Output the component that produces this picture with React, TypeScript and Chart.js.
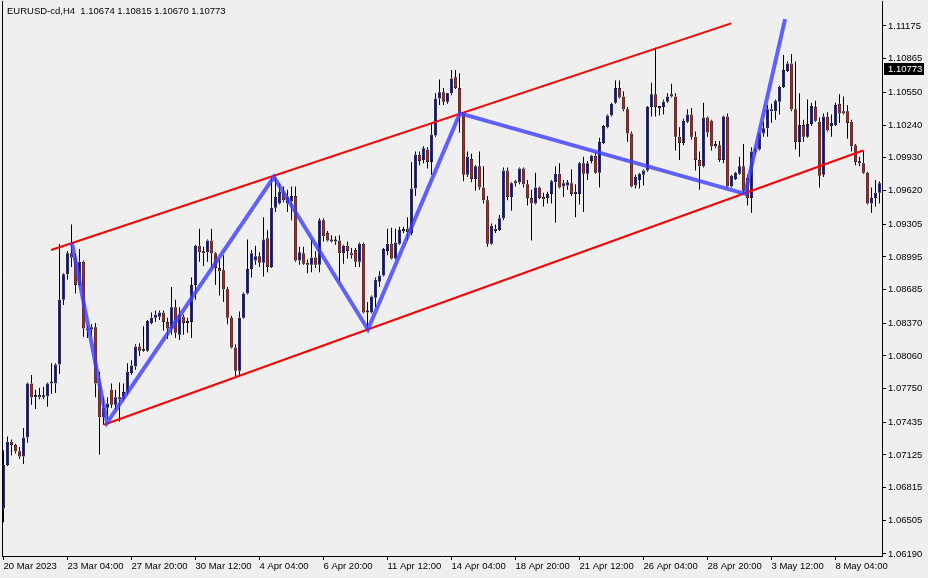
import React, { useEffect, useRef } from 'react';
import { Chart, registerables } from 'chart.js';

Chart.register(...registerables);

const FONT = '"Liberation Sans", Arial, sans-serif';
const BG = '#efefef';
const BULL = '#0000ff';
const BEAR = '#ff0000';

const titleText = 'EURUSD-cd,H4  1.10674 1.10815 1.10670 1.10773';
const lastPrice = 1.10773;

const opens = [
  1.0662, 1.0703, 1.0725, 1.0722, 1.0716, 1.0711, 1.0729, 1.0780, 1.0767, 1.0769,
  1.0767, 1.0768, 1.0780, 1.0780, 1.0798, 1.0859, 1.0883, 1.0903, 1.0899, 1.0873,
  1.0895, 1.0830, 1.0831, 1.0833, 1.0780, 1.0748, 1.0757, 1.0774, 1.0760, 1.0767,
  1.0765, 1.0772, 1.0790, 1.0796, 1.0815, 1.0811, 1.0811, 1.0837, 1.0842, 1.0843,
  1.0847, 1.0838, 1.0832, 1.0852, 1.0826, 1.0843, 1.0837, 1.0838, 1.0873, 1.0910,
  1.0904, 1.0904, 1.0915, 1.0903, 1.0889, 1.0887, 1.0869, 1.0842, 1.0814, 1.0792,
  1.0842, 1.0865, 1.0888, 1.0896, 1.0900, 1.0894, 1.0917, 1.0890, 1.0946, 1.0950,
  1.0960, 1.0950, 1.0952, 1.0957, 1.0896, 1.0903, 1.0894, 1.0892, 1.0899, 1.0892,
  1.0934, 1.0922, 1.0915, 1.0914, 1.0915, 1.0903, 1.0910, 1.0903, 1.0906, 1.0895,
  1.0912, 1.0847, 1.0847, 1.0861, 1.0876, 1.0882, 1.0905, 1.0912, 1.0898, 1.0912,
  1.0925, 1.0926, 1.0922, 1.0964, 1.0996, 1.0991, 1.1001, 1.0989, 1.1014, 1.1049,
  1.1055, 1.1046, 1.1054, 1.1069, 1.1059, 1.1035, 1.0977, 1.0992, 1.0973, 1.0985,
  1.0965, 1.0953, 1.0912, 1.0926, 1.0925, 1.0936, 1.0981, 1.0956, 1.0969, 1.0970,
  1.0983, 1.0968, 1.0955, 1.0950, 1.0965, 1.0956, 1.0955, 1.0959, 1.0970, 1.0978,
  1.0966, 1.0967, 1.0969, 1.0959, 1.0959, 1.0988, 1.0978, 1.0990, 1.0995, 1.0979,
  1.1007, 1.1022, 1.1033, 1.1045, 1.1059, 1.1051, 1.1039, 1.1016, 1.0967, 1.0972,
  1.0977, 1.0981, 1.1041, 1.1053, 1.1041, 1.1041, 1.1046, 1.1051, 1.1051, 1.1013,
  1.1007, 1.1027, 1.1034, 1.1013, 1.0991, 1.0985, 1.1031, 1.1028, 1.1004, 1.1005,
  1.0991, 1.1032, 1.0966, 1.0973, 1.0978, 1.0985, 1.0974, 1.0955, 1.0999, 1.1001,
  1.1016, 1.1021, 1.1037, 1.1037, 1.1046, 1.1060, 1.1075, 1.1082, 1.1039, 1.1008,
  1.1024, 1.1013, 1.1025, 1.1041, 1.1027, 1.0977, 1.1032, 1.1023, 1.1024, 1.1044,
  1.1037, 1.1037, 1.1027, 1.1005, 1.0989, 1.0988, 1.0979, 1.0950, 1.0955, 1.0960,
];

const highs = [
  1.0717, 1.0730, 1.0727, 1.0723, 1.0720, 1.0738, 1.0781, 1.0788, 1.0774, 1.0776,
  1.0777, 1.0781, 1.0799, 1.0799, 1.0912, 1.0884, 1.0905, 1.0930, 1.0903, 1.0907,
  1.0896, 1.0835, 1.0836, 1.0837, 1.0791, 1.0767, 1.0767, 1.0780, 1.0774, 1.0781,
  1.0780, 1.0799, 1.0802, 1.0817, 1.0818, 1.0834, 1.0840, 1.0847, 1.0849, 1.0849,
  1.0849, 1.0842, 1.0871, 1.0859, 1.0852, 1.0845, 1.0842, 1.0880, 1.0911, 1.0926,
  1.0909, 1.0916, 1.0926, 1.0904, 1.0897, 1.0901, 1.0871, 1.0844, 1.0817, 1.0848,
  1.0866, 1.0916, 1.0906, 1.0910, 1.0904, 1.0937, 1.0925, 1.0974, 1.0975, 1.0969,
  1.0966, 1.0963, 1.0966, 1.0966, 1.0909, 1.0909, 1.0897, 1.0916, 1.0905, 1.0936,
  1.0936, 1.0924, 1.0920, 1.0919, 1.0920, 1.0911, 1.0914, 1.0908, 1.0908, 1.0913,
  1.0913, 1.0857, 1.0863, 1.0880, 1.0886, 1.0908, 1.0926, 1.0927, 1.0926, 1.0928,
  1.0928, 1.0937, 1.0989, 1.0999, 1.0999, 1.1004, 1.1003, 1.1026, 1.1054, 1.1067,
  1.1059, 1.1052, 1.1076, 1.1076, 1.1073, 1.1036, 1.0999, 1.0997, 1.0986, 1.0999,
  1.0985, 1.0957, 1.0931, 1.0930, 1.0939, 1.0984, 1.0984, 1.0970, 1.0972, 1.0984,
  1.0984, 1.0972, 1.0963, 1.0979, 1.0966, 1.0960, 1.0961, 1.0972, 1.0985, 1.0988,
  1.0972, 1.0972, 1.0982, 1.0968, 1.0989, 1.0994, 1.0990, 1.0996, 1.0998, 1.1012,
  1.1024, 1.1034, 1.1045, 1.1066, 1.1066, 1.1056, 1.1041, 1.1018, 1.0977, 1.0979,
  1.0982, 1.1042, 1.1064, 1.1097, 1.1042, 1.1048, 1.1054, 1.1063, 1.1054, 1.1022,
  1.1030, 1.1039, 1.1040, 1.1018, 1.0999, 1.1045, 1.1032, 1.1029, 1.1009, 1.1009,
  1.1033, 1.1035, 1.0977, 1.0980, 1.0994, 1.1006, 1.0977, 1.1003, 1.1003, 1.1017,
  1.1027, 1.1043, 1.1044, 1.1048, 1.1061, 1.1090, 1.1084, 1.1091, 1.1084, 1.1054,
  1.1029, 1.1048, 1.1045, 1.1047, 1.1031, 1.1035, 1.1036, 1.1034, 1.1045, 1.1053,
  1.1051, 1.1043, 1.1029, 1.1006, 1.0994, 1.1000, 1.0980, 1.0965, 1.0972, 1.0971,
];

const lows = [
  1.0649, 1.0702, 1.0712, 1.0714, 1.0709, 1.0704, 1.0724, 1.0760, 1.0756, 1.0765,
  1.0765, 1.0758, 1.0770, 1.0771, 1.0789, 1.0854, 1.0878, 1.0890, 1.0865, 1.0872,
  1.0824, 1.0823, 1.0825, 1.0767, 1.0713, 1.0741, 1.0746, 1.0757, 1.0755, 1.0744,
  1.0764, 1.0769, 1.0788, 1.0793, 1.0806, 1.0810, 1.0810, 1.0836, 1.0838, 1.0840,
  1.0830, 1.0822, 1.0826, 1.0823, 1.0821, 1.0826, 1.0828, 1.0823, 1.0859, 1.0895,
  1.0891, 1.0895, 1.0889, 1.0873, 1.0863, 1.0857, 1.0836, 1.0813, 1.0787, 1.0788,
  1.0841, 1.0864, 1.0880, 1.0892, 1.0890, 1.0881, 1.0885, 1.0889, 1.0942, 1.0949,
  1.0951, 1.0942, 1.0934, 1.0895, 1.0892, 1.0892, 1.0884, 1.0885, 1.0889, 1.0885,
  1.0914, 1.0914, 1.0913, 1.0911, 1.0876, 1.0893, 1.0898, 1.0898, 1.0890, 1.0890,
  1.0846, 1.0830, 1.0846, 1.0852, 1.0871, 1.0881, 1.0901, 1.0897, 1.0897, 1.0911,
  1.0922, 1.0915, 1.0920, 1.0957, 1.0986, 1.0988, 1.0983, 1.0977, 1.1013, 1.1043,
  1.1043, 1.1044, 1.1052, 1.1058, 1.1017, 1.0971, 1.0975, 1.0970, 1.0962, 1.0963,
  1.0950, 1.0909, 1.0911, 1.0922, 1.0924, 1.0934, 1.0953, 1.0943, 1.0966, 1.0968,
  1.0965, 1.0948, 1.0915, 1.0949, 1.0954, 1.0947, 1.0950, 1.0950, 1.0932, 1.0964,
  1.0956, 1.0963, 1.0957, 1.0937, 1.0949, 1.0942, 1.0972, 1.0988, 1.0978, 1.0965,
  1.1006, 1.1021, 1.1032, 1.1044, 1.1049, 1.1037, 1.1008, 1.0965, 1.0964, 1.0964,
  1.0967, 1.0980, 1.1032, 1.1032, 1.1033, 1.1034, 1.1045, 1.1050, 1.1000, 1.0991,
  1.1005, 1.1026, 1.1010, 1.0981, 1.0963, 1.0984, 1.1013, 1.1000, 1.1002, 1.0989,
  1.0988, 1.0965, 1.0965, 1.0972, 1.0977, 1.0960, 1.0948, 1.0941, 1.0996, 1.1000,
  1.1013, 1.1013, 1.1026, 1.1029, 1.1034, 1.1059, 1.1074, 1.1037, 1.1001, 1.0994,
  1.1008, 1.1012, 1.1023, 1.1027, 1.0965, 1.0975, 1.1018, 1.1013, 1.1023, 1.1026,
  1.1034, 1.1011, 1.0999, 1.0986, 1.0985, 1.0978, 1.0949, 1.0941, 1.0947, 1.0950,
];

const closes = [
  1.0703, 1.0725, 1.0722, 1.0716, 1.0711, 1.0729, 1.0780, 1.0767, 1.0769, 1.0767,
  1.0768, 1.0780, 1.0781, 1.0798, 1.0859, 1.0883, 1.0903, 1.0899, 1.0873, 1.0895,
  1.0832, 1.0832, 1.0833, 1.0780, 1.0748, 1.0757, 1.0761, 1.0760, 1.0767, 1.0765,
  1.0772, 1.0791, 1.0797, 1.0815, 1.0811, 1.0812, 1.0839, 1.0842, 1.0845, 1.0847,
  1.0838, 1.0832, 1.0852, 1.0828, 1.0845, 1.0837, 1.0839, 1.0873, 1.0910, 1.0904,
  1.0903, 1.0915, 1.0903, 1.0889, 1.0886, 1.0869, 1.0842, 1.0814, 1.0792, 1.0842,
  1.0865, 1.0888, 1.0903, 1.0900, 1.0894, 1.0916, 1.0890, 1.0946, 1.0956, 1.0961,
  1.0953, 1.0956, 1.0957, 1.0896, 1.0904, 1.0893, 1.0892, 1.0899, 1.0892, 1.0934,
  1.0919, 1.0915, 1.0914, 1.0915, 1.0903, 1.0910, 1.0905, 1.0901, 1.0895, 1.0912,
  1.0847, 1.0848, 1.0862, 1.0878, 1.0882, 1.0907, 1.0912, 1.0898, 1.0913, 1.0925,
  1.0924, 1.0923, 1.0964, 1.0996, 1.0990, 1.1002, 1.0989, 1.1015, 1.1049, 1.1055,
  1.1046, 1.1054, 1.1068, 1.1059, 1.1035, 1.0977, 1.0994, 1.0973, 1.0985, 1.0965,
  1.0953, 1.0912, 1.0929, 1.0924, 1.0936, 1.0981, 1.0956, 1.0969, 1.0971, 1.0983,
  1.0968, 1.0955, 1.0950, 1.0965, 1.0955, 1.0954, 1.0959, 1.0971, 1.0978, 1.0965,
  1.0969, 1.0970, 1.0959, 1.0961, 1.0988, 1.0978, 1.0988, 1.0995, 1.0979, 1.1008,
  1.1023, 1.1033, 1.1044, 1.1059, 1.1050, 1.1039, 1.1016, 1.0966, 1.0975, 1.0978,
  1.0981, 1.1041, 1.1053, 1.1041, 1.1040, 1.1046, 1.1051, 1.1053, 1.1013, 1.1007,
  1.1028, 1.1034, 1.1013, 1.0991, 1.0985, 1.1031, 1.1017, 1.1004, 1.1006, 1.0991,
  1.1032, 1.0966, 1.0976, 1.0979, 1.0985, 1.0962, 1.0955, 1.0999, 1.1000, 1.1016,
  1.1021, 1.1039, 1.1039, 1.1047, 1.1060, 1.1076, 1.1082, 1.1039, 1.1008, 1.1024,
  1.1013, 1.1025, 1.1042, 1.1028, 1.0976, 1.1032, 1.1019, 1.1026, 1.1043, 1.1035,
  1.1035, 1.1026, 1.1004, 1.0989, 1.0988, 1.0979, 1.0950, 1.0955, 1.0960, 1.0969,
];

const xTickIndex = [0, 16, 32, 48, 64, 80, 96, 112, 128, 144, 160, 176, 192, 208];
const xTickLabels = [
  '20 Mar 2023', '23 Mar 04:00', '27 Mar 20:00', '30 Mar 12:00', '4 Apr 04:00',
  '6 Apr 20:00', '11 Apr 12:00', '14 Apr 04:00', '18 Apr 20:00', '21 Apr 12:00',
  '26 Apr 04:00', '28 Apr 20:00', '3 May 12:00', '8 May 04:00',
];

const yTicks = [
  1.0619, 1.06505, 1.06815, 1.07125, 1.07435, 1.0775, 1.0806, 1.0837, 1.08685,
  1.08995, 1.09305, 1.0962, 1.0993, 1.1024, 1.1055, 1.10865, 1.11175,
];

const upperChannel = [
  { x: 11.9, y: 1.0906 },
  { x: 181.9, y: 1.112 },
];
const lowerChannel = [
  { x: 25.1, y: 1.0741 },
  { x: 214.9, y: 1.1 },
];
const zigzag = [
  { x: 17.1, y: 1.0913 },
  { x: 25.9, y: 1.0743 },
  { x: 67.6, y: 1.0975 },
  { x: 91.1, y: 1.0831 },
  { x: 114.1, y: 1.1035 },
  { x: 185.4, y: 1.0959 },
  { x: 195.4, y: 1.1124 },
];

const decorPlugin = {
  id: 'mtDecor',
  beforeDraw(chart: any) {
    const ctx = chart.ctx;
    ctx.save();
    ctx.fillStyle = BG;
    ctx.fillRect(0, 0, chart.width, chart.height);
    ctx.restore();
  },
  afterDraw(chart: any) {
    const ctx = chart.ctx;
    const a = chart.chartArea;
    ctx.save();
    ctx.strokeStyle = '#000';
    ctx.lineWidth = 1;
    ctx.beginPath();
    ctx.moveTo(a.left + 0.5, a.top);
    ctx.lineTo(a.left + 0.5, a.bottom);
    ctx.stroke();

    ctx.font = `9.5px ${FONT}`;
    ctx.fillStyle = '#000';
    ctx.textBaseline = 'middle';
    ctx.textAlign = 'left';
    ctx.fillText(titleText, 7, 11);

    const y = Math.round(chart.scales.y.getPixelForValue(lastPrice));
    ctx.fillStyle = '#000';
    ctx.fillRect(a.right + 2, y - 6, 40, 12);
    ctx.fillStyle = '#fff';
    ctx.fillText(lastPrice.toFixed(5), a.right + 6, y);
    ctx.restore();
  },
};

export default function App() {
  const ref = useRef<HTMLCanvasElement | null>(null);

  useEffect(() => {
    if (!ref.current) return;
    const bodies = opens.map((o, i) => ({ x: i, y: [o, closes[i]] }));
    const upperWicks = highs.map((h, i) => ({ x: i, y: [Math.max(opens[i], closes[i]), h] }));
    const lowerWicks = lows.map((l, i) => ({ x: i, y: [l, Math.min(opens[i], closes[i])] }));
    const bodyColors = opens.map((o, i) => (closes[i] >= o ? BULL : BEAR));
    const tickFont = { family: FONT, size: 9.5 };
    const wickBase = {
      type: 'bar',
      backgroundColor: '#000',
      borderWidth: 0,
      barThickness: 1,
      grouped: false,
      inflateAmount: 0,
      order: 5,
    };

    const chart = new Chart(ref.current, {
      type: 'bar',
      data: {
        datasets: [
          {
            type: 'line',
            label: 'ZigZag',
            data: zigzag,
            borderColor: 'rgba(60,60,255,0.8)',
            borderWidth: 4,
            pointRadius: 0,
            tension: 0,
            order: 0,
          },
          {
            type: 'line',
            label: 'Upper',
            data: upperChannel,
            borderColor: '#ff0000',
            borderWidth: 2,
            pointRadius: 0,
            order: 1,
          },
          {
            type: 'line',
            label: 'Lower',
            data: lowerChannel,
            borderColor: '#ff0000',
            borderWidth: 2,
            pointRadius: 0,
            order: 1,
          },
          {
            type: 'bar',
            label: 'Body',
            data: bodies,
            backgroundColor: bodyColors,
            borderColor: '#000',
            borderWidth: 0.75,
            borderSkipped: false,
            barThickness: 3,
            grouped: false,
            minBarLength: 2,
            inflateAmount: 0,
            order: 2,
          },
          { ...wickBase, label: 'UpperWick', data: upperWicks },
          { ...wickBase, label: 'LowerWick', data: lowerWicks },
        ] as any,
      },
      options: {
        responsive: false,
        maintainAspectRatio: false,
        animation: false,
        events: [],
        layout: { padding: { left: 2, top: 1, right: 0, bottom: 0 }, autoPadding: false },
        plugins: {
          legend: { display: false },
          tooltip: { enabled: false },
          title: { display: false },
        },
        scales: {
          x: {
            type: 'linear',
            min: -0.375,
            max: 219.625,
            offset: false,
            bounds: 'data',
            grid: {
              display: true,
              drawOnChartArea: false,
              drawTicks: true,
              tickLength: 4,
              color: '#000',
              offset: false,
            },
            border: { display: true, color: '#000', width: 1 },
            ticks: {
              align: 'start',
              autoSkip: false,
              maxRotation: 0,
              minRotation: 0,
              padding: 1,
              color: '#000',
              font: tickFont,
              callback: (_v: any, idx: number) => xTickLabels[idx] ?? '',
            },
            afterBuildTicks: (s: any) => {
              s.ticks = xTickIndex.map((v) => ({ value: v }));
            },
            afterFit: (s: any) => {
              s.height = 22;
              s.paddingLeft = 0;
              s.paddingRight = 0;
              s.paddingTop = 0;
              s.paddingBottom = 0;
            },
          },
          y: {
            type: 'linear',
            position: 'right',
            min: 1.061711,
            max: 1.11411,
            bounds: 'data',
            beginAtZero: false,
            grid: {
              display: true,
              drawOnChartArea: false,
              drawTicks: true,
              tickLength: 4,
              color: '#000',
            },
            border: { display: true, color: '#000', width: 1 },
            ticks: {
              padding: 2,
              color: '#000',
              font: tickFont,
              autoSkip: false,
              callback: (v: any) => Number(v).toFixed(5),
            },
            afterBuildTicks: (s: any) => {
              s.ticks = yTicks.map((v) => ({ value: v }));
            },
            afterFit: (s: any) => {
              s.width = 46;
              s.paddingLeft = 0;
              s.paddingRight = 0;
              s.paddingTop = 0;
              s.paddingBottom = 0;
            },
          },
        },
      } as any,
      plugins: [decorPlugin],
    });
    return () => chart.destroy();
  }, []);

  return (
    <div style={{ position: 'absolute', left: 0, top: 0, width: 928, height: 578, background: BG }}>
      <canvas ref={ref} width={928} height={578} style={{ width: 928, height: 578, display: 'block' }} />
    </div>
  );
}
